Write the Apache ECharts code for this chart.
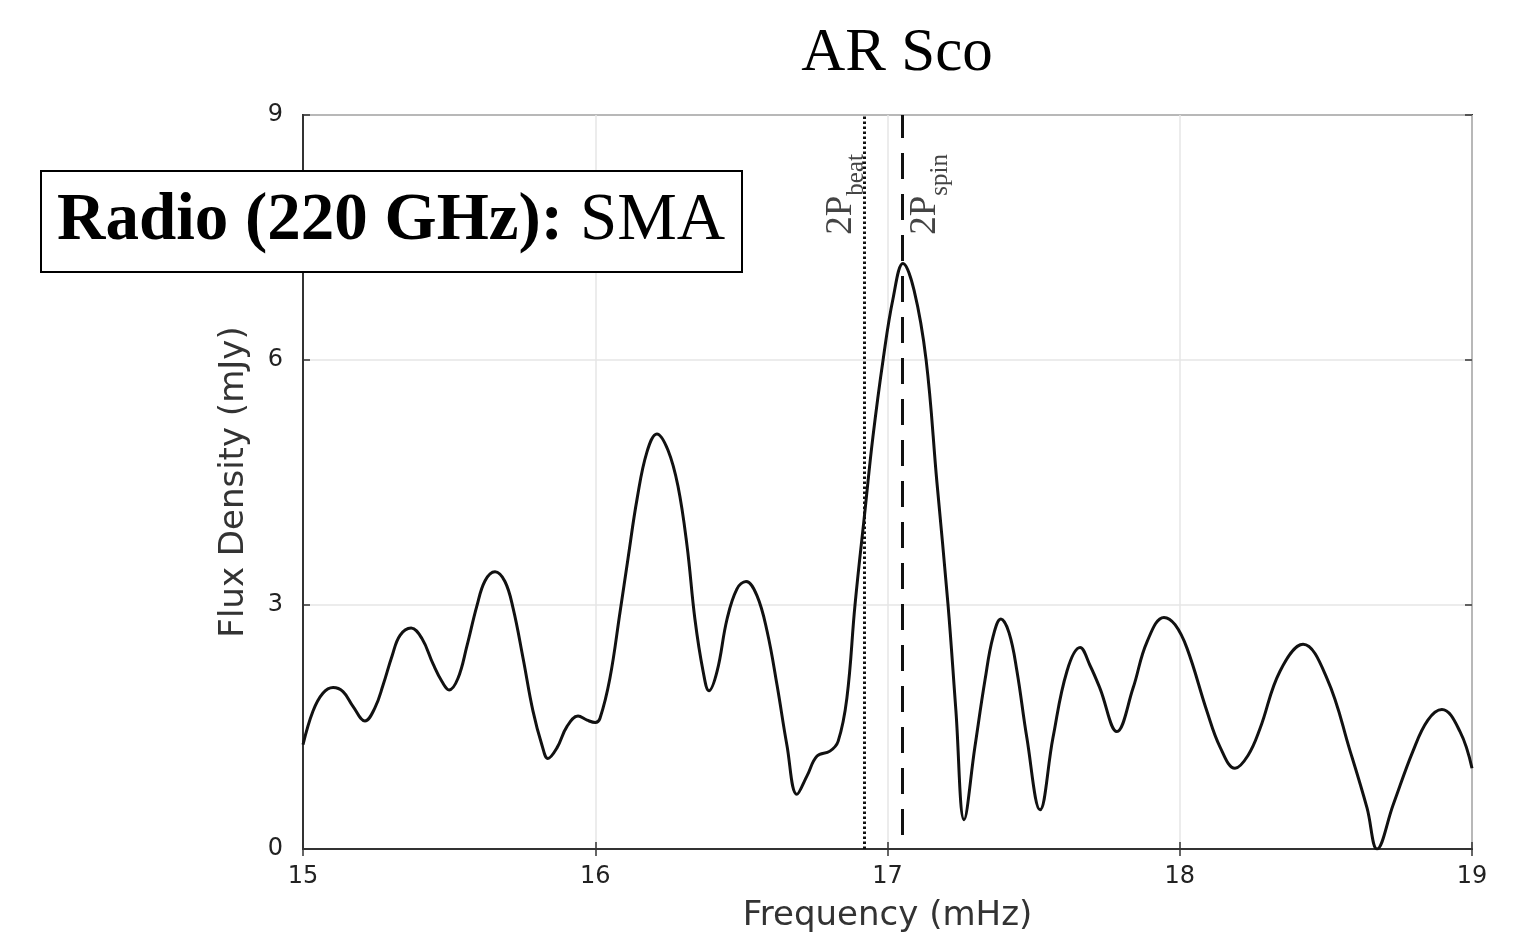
<!DOCTYPE html>
<html><head><meta charset="utf-8">
<script src="https://cdn.jsdelivr.net/npm/echarts@6/dist/echarts.min.js"></script>
<style>html,body{margin:0;padding:0;background:#fff}#c{width:1531px;height:938px}</style>
</head><body><div id="c"></div>
<script>
const freq = [15.000,15.034,15.068,15.103,15.137,15.171,15.212,15.246,15.274,15.305,15.332,15.370,15.407,15.445,15.476,15.500,15.530,15.561,15.595,15.623,15.657,15.691,15.719,15.753,15.787,15.818,15.838,15.869,15.903,15.941,15.972,16.000,16.016,16.050,16.085,16.112,16.143,16.177,16.211,16.249,16.283,16.314,16.341,16.369,16.389,16.417,16.451,16.485,16.516,16.553,16.588,16.622,16.656,16.690,16.725,16.759,16.803,16.831,16.861,16.889,16.923,16.950,16.985,17.019,17.053,17.091,17.132,17.169,17.207,17.234,17.262,17.299,17.334,17.361,17.388,17.416,17.443,17.477,17.522,17.566,17.614,17.659,17.693,17.727,17.785,17.840,17.888,17.946,17.984,18.025,18.093,18.138,18.189,18.234,18.275,18.343,18.422,18.504,18.583,18.641,18.675,18.730,18.798,18.849,18.897,18.959,19.000];
const flux = [1.28,1.69,1.91,1.98,1.93,1.75,1.57,1.73,2.01,2.37,2.62,2.71,2.58,2.27,2.05,1.95,2.09,2.49,2.98,3.29,3.40,3.28,2.95,2.34,1.69,1.27,1.11,1.24,1.50,1.63,1.58,1.55,1.60,2.09,2.91,3.56,4.29,4.87,5.09,4.89,4.45,3.72,2.82,2.18,1.94,2.18,2.82,3.19,3.28,3.11,2.67,2.01,1.27,0.67,0.90,1.14,1.20,1.32,1.85,3.00,4.15,5.05,6.00,6.75,7.18,6.85,6.00,4.50,3.00,1.70,0.36,1.25,2.08,2.60,2.82,2.65,2.18,1.36,0.48,1.36,2.18,2.47,2.25,1.97,1.44,1.97,2.54,2.84,2.75,2.46,1.69,1.25,0.99,1.15,1.48,2.18,2.51,2.09,1.20,0.50,0.00,0.54,1.20,1.58,1.71,1.44,0.99];
const xTicks = [15,16,17,18,19];
const yTicks = [0,3,6,9];
const beatFreq = 16.92;
const spinFreq = 17.055;
const titleText = 'AR Sco';
const boxBold = 'Radio (220 GHz): ';
const boxNormal = 'SMA';
const xName = 'Frequency (mHz)';
const yName = 'Flux Density (mJy)';

const chart = echarts.init(document.getElementById('c'), null, {renderer:'canvas'});
const pts = freq.map((f,i)=>[f, flux[i]]);
const tickFont = {fontFamily:'DejaVu Sans', fontSize:24, color:'#222'};
const subLabel = (main, sub) => '{m|' + main + '}{s|' + sub + '}';
const labelRich = {
  m:{fontFamily:'Liberation Serif', fontSize:37, color:'#444', verticalAlign:'bottom', lineHeight:38},
  s:{fontFamily:'Liberation Serif', fontSize:25, color:'#444', verticalAlign:'bottom', lineHeight:38, padding:[0,0,-9,0]}
};
chart.setOption({
  animation:false,
  backgroundColor:'#fff',
  title:[
    {text:titleText, top:23, left:897, textAlign:'center', padding:0,
     textStyle:{fontFamily:'Liberation Serif', fontSize:61, fontWeight:'normal', color:'#000'}},
    {text:'{b|'+boxBold+'}{n|'+boxNormal+'}', left:41, top:171, backgroundColor:'#fff', borderColor:'#000', borderWidth:2,
     padding:[13,17,13,16],
     textStyle:{lineHeight:75, rich:{
       b:{fontFamily:'Liberation Serif', fontSize:67, fontWeight:'bold', color:'#000', lineHeight:75},
       n:{fontFamily:'Liberation Serif', fontSize:67, fontWeight:'normal', color:'#000', lineHeight:75}
     }}}
  ],
  grid:{left:303, right:59, top:115, bottom:87, show:true, borderColor:'#333', borderWidth:2, backgroundColor:'transparent'},
  xAxis:[{
    type:'value', min:xTicks[0], max:xTicks[xTicks.length-1], interval:1,
    name:xName, nameLocation:'middle', nameGap:50,
    nameTextStyle:{fontFamily:'DejaVu Sans', fontSize:34, color:'#333'},
    axisLine:{lineStyle:{color:'#333', width:2}},
    axisTick:{inside:true, length:7, lineStyle:{color:'#333', width:1.5}},
    axisLabel:Object.assign({margin:16}, tickFont),
    splitLine:{show:true, lineStyle:{color:'#e6e6e6', width:1.5}}
  },{
    type:'value', position:'top', min:xTicks[0], max:xTicks[xTicks.length-1], interval:1,
    axisLine:{show:false}, axisLabel:{show:false}, splitLine:{show:false},
    axisTick:{inside:true, length:7, lineStyle:{color:'#333', width:1.5}}
  }],
  yAxis:[{
    type:'value', min:yTicks[0], max:yTicks[yTicks.length-1], interval:3,
    name:yName, nameLocation:'middle', nameGap:52, nameRotate:90,
    nameTextStyle:{fontFamily:'DejaVu Sans', fontSize:34, color:'#333'},
    axisLine:{show:true, lineStyle:{color:'#333', width:2}},
    axisTick:{show:true, inside:true, length:7, lineStyle:{color:'#333', width:1.5}},
    axisLabel:Object.assign({margin:20}, tickFont),
    splitLine:{show:true, lineStyle:{color:'#e6e6e6', width:1.5}}
  },{
    type:'value', position:'right', min:yTicks[0], max:yTicks[yTicks.length-1], interval:3,
    axisLine:{show:false}, axisLabel:{show:false}, splitLine:{show:false},
    axisTick:{show:true, inside:true, length:7, lineStyle:{color:'#333', width:1.5}}
  }],
  series:[{
    type:'line', data:pts, smooth:0.4, symbol:'none', z:3,
    lineStyle:{color:'#111', width:3},
    markLine:{
      silent:true, symbol:'none', animation:false,
      data:[
        {xAxis:beatFreq, lineStyle:{type:[2.5,2.5], color:'#111', width:3},
         label:{show:true, position:'insideEndTop', formatter:subLabel('2P','beat'), rich:labelRich, distance:[39,4]}},
        {xAxis:spinFreq, lineStyle:{type:[26,15], dashOffset:27, color:'#111', width:3},
         label:{show:true, position:'insideEndBottom', formatter:subLabel('2P','spin'), rich:labelRich, distance:[39,4]}}
      ]
    }
  }]
});
</script></body></html>
